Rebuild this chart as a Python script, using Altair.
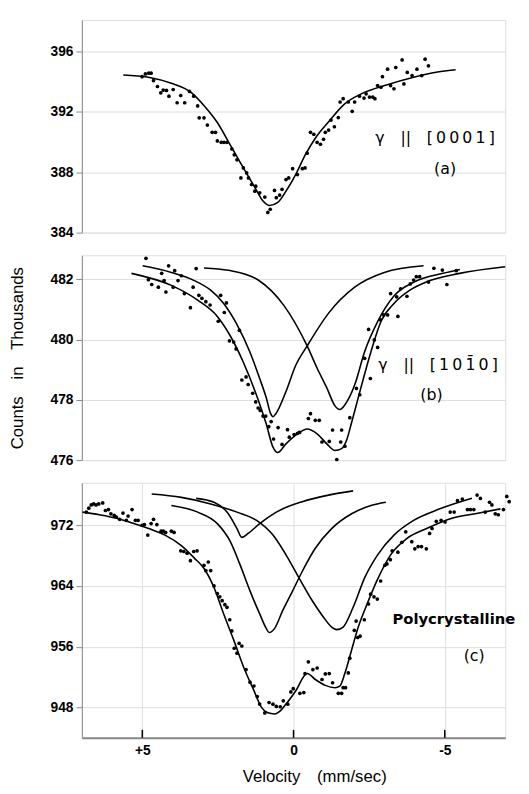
import altair as alt
import pandas as pd

# ---------------- data (velocity mm/s, counts in thousands) -------------
# Panel (a)  gamma || [0001]
A_DOTS = [(5.01, 394.34), (4.90, 394.52), (4.79, 394.57), (4.71, 394.57), (4.63, 394.08), (4.50, 393.69),
          (4.39, 393.27), (4.31, 393.45), (4.20, 393.43), (4.12, 393.05), (3.98, 393.49), (3.85, 392.61),
          (3.73, 393.09), (3.60, 392.61), (3.44, 393.36), (3.30, 393.05), (3.17, 392.40), (3.12, 391.61),
          (2.96, 391.61), (2.85, 391.13), (2.69, 390.65), (2.58, 390.65), (2.52, 390.08), (2.39, 389.99),
          (2.30, 389.99), (2.20, 389.99), (2.04, 389.55), (1.96, 389.16), (1.87, 388.83), (1.74, 387.63),
          (1.66, 388.29), (1.55, 387.96), (1.49, 387.63), (1.39, 387.19), (1.28, 386.75), (1.25, 387.08),
          (1.12, 386.64), (0.95, 386.36), (0.85, 385.34), (0.77, 385.55), (0.63, 386.80), (0.57, 386.32),
          (0.46, 386.49), (0.38, 386.87), (0.25, 387.52), (0.16, 387.63), (0.03, 388.24), (-0.13, 387.85),
          (-0.29, 388.24), (-0.38, 388.29), (-0.45, 389.27), (-0.56, 390.65), (-0.67, 390.52), (-0.78, 389.99),
          (-0.89, 389.86), (-0.99, 390.19), (-1.05, 390.65), (-1.16, 390.80), (-1.24, 391.46), (-1.35, 391.02),
          (-1.48, 391.63), (-1.54, 392.66), (-1.64, 392.88), (-1.81, 392.66), (-1.94, 392.04), (-2.02, 392.66),
          (-2.18, 393.05), (-2.33, 392.92), (-2.40, 393.20), (-2.51, 392.99), (-2.62, 392.99), (-2.69, 392.88),
          (-2.78, 393.75), (-2.89, 393.64), (-2.94, 394.34), (-3.11, 394.84), (-3.21, 393.75), (-3.32, 393.54),
          (-3.38, 394.95), (-3.59, 395.45), (-3.65, 393.86), (-3.76, 394.62), (-3.92, 394.41), (-4.08, 394.84),
          (-4.24, 394.41), (-4.35, 395.50), (-4.46, 395.06)]
A_FIT = [(5.63, 394.45), (4.80, 394.30), (4.04, 393.90), (3.39, 393.30), (2.95, 392.40), (2.52, 391.30),
         (2.09, 389.80), (1.66, 388.30), (1.28, 387.00), (1.01, 386.10), (0.79, 385.80), (0.52, 386.00),
         (0.25, 386.75), (-0.07, 387.85), (-0.40, 389.20), (-0.72, 390.26), (-1.16, 391.35), (-1.70, 392.55),
         (-2.24, 393.20), (-3.10, 393.80), (-3.97, 394.30), (-4.62, 394.60), (-5.36, 394.80)]

# Panel (b)  gamma || [10-10]
B_DOTS = [(4.88, 482.70), (4.80, 481.99), (4.69, 481.83), (4.47, 481.74), (4.36, 482.20), (4.28, 481.96),
          (4.22, 481.58), (4.13, 482.45), (3.98, 481.74), (3.93, 482.29), (3.82, 481.96), (3.71, 482.12),
          (3.61, 481.53), (3.41, 481.06), (3.32, 481.74), (3.22, 482.36), (3.13, 481.47), (3.03, 481.37),
          (2.90, 481.26), (2.76, 481.15), (2.49, 480.61), (2.41, 481.47), (2.29, 480.90), (2.22, 481.22),
          (2.12, 479.96), (1.98, 479.92), (1.90, 479.69), (1.79, 480.31), (1.71, 478.66), (1.57, 478.76),
          (1.50, 478.51), (1.35, 478.22), (1.25, 477.93), (1.17, 477.73), (1.10, 477.65), (1.01, 477.46),
          (0.92, 477.46), (0.82, 477.11), (0.74, 477.28), (0.66, 476.70), (0.51, 477.08), (0.38, 476.52),
          (0.20, 477.01), (0.14, 476.76), (-0.02, 476.85), (-0.13, 476.89), (-0.20, 476.92), (-0.49, 477.38),
          (-0.56, 477.54), (-0.72, 477.32), (-0.85, 477.32), (-0.94, 476.60), (-1.18, 476.62), (-1.29, 477.00),
          (-1.43, 476.02), (-1.56, 476.60), (-1.59, 477.00), (-1.70, 476.46), (-1.86, 477.41), (-2.08, 478.38),
          (-2.19, 478.17), (-2.35, 479.38), (-2.48, 480.34), (-2.54, 478.71), (-2.67, 479.99), (-2.78, 479.74),
          (-2.87, 480.66), (-2.98, 480.82), (-3.11, 480.82), (-3.21, 481.53), (-3.41, 481.42), (-3.45, 480.77),
          (-3.54, 481.69), (-3.75, 481.44), (-3.86, 481.85), (-3.97, 481.98), (-4.06, 482.09), (-4.17, 482.09),
          (-4.46, 481.91), (-4.64, 482.37), (-4.92, 482.31), (-5.07, 481.83), (-5.38, 482.29)]
B_TOTAL = [(5.36, 482.20), (4.04, 481.80), (3.17, 481.31), (2.52, 480.77), (2.09, 480.12), (1.66, 479.25),
           (1.23, 478.17), (0.90, 477.19), (0.68, 476.43), (0.52, 476.25), (0.25, 476.54), (-0.13, 476.87),
           (-0.45, 477.03), (-0.78, 476.87), (-1.10, 476.54), (-1.37, 476.32), (-1.59, 476.38), (-1.75, 476.65),
           (-1.92, 477.25), (-2.12, 478.00), (-2.56, 479.60), (-2.89, 480.60), (-3.32, 481.20), (-3.86, 481.65),
           (-4.40, 481.92), (-5.49, 482.20), (-7.00, 482.42)]
B_LEFT = [(4.99, 482.45), (4.04, 482.23), (3.28, 481.96), (2.74, 481.64), (2.31, 481.20), (1.87, 480.50),
          (1.44, 479.58), (1.12, 478.71), (0.90, 478.06), (0.76, 477.55), (0.68, 477.44), (0.58, 477.55),
          (0.25, 478.28), (-0.07, 479.14), (-0.45, 479.79), (-1.16, 480.88), (-2.02, 481.74), (-3.00, 482.23),
          (-4.30, 482.45)]
B_RIGHT = [(2.96, 482.38), (2.15, 482.30), (1.17, 481.98), (0.31, 481.12), (-0.45, 479.79), (-0.78, 479.05),
           (-1.10, 478.40), (-1.37, 477.80), (-1.53, 477.68), (-1.70, 477.84), (-2.02, 478.49), (-2.35, 479.60),
           (-2.78, 480.60), (-3.32, 481.45), (-4.00, 481.92), (-4.94, 482.20), (-5.50, 482.33)]

# Panel (c)  polycrystalline
C_DOTS = [(6.85, 973.73), (6.77, 974.25), (6.69, 974.68), (6.61, 974.81), (6.53, 974.68), (6.44, 974.81),
          (6.31, 974.94), (6.22, 973.94), (6.12, 974.07), (6.04, 973.51), (5.93, 973.30), (5.86, 973.08),
          (5.75, 972.78), (5.64, 973.60), (5.53, 972.65), (5.47, 973.21), (5.34, 974.07), (5.23, 972.65),
          (5.14, 972.65), (5.01, 972.00), (4.93, 972.09), (4.82, 970.70), (4.71, 972.22), (4.63, 972.78),
          (4.52, 972.09), (4.38, 971.22), (4.31, 971.22), (4.23, 971.05), (4.04, 971.22), (3.95, 971.05),
          (3.73, 968.63), (3.63, 968.54), (3.52, 968.32), (3.41, 967.33), (3.30, 968.54), (3.19, 968.63),
          (2.96, 966.72), (2.90, 966.03), (2.82, 967.16), (2.74, 966.03), (2.63, 964.00), (2.52, 963.01),
          (2.44, 962.57), (2.36, 962.06), (2.27, 961.54), (2.20, 961.19), (2.11, 959.55), (2.04, 958.08),
          (1.96, 955.79), (1.87, 955.14), (1.80, 956.44), (1.71, 956.09), (1.57, 952.98), (1.44, 951.33),
          (1.31, 950.82), (1.20, 949.43), (1.12, 948.44), (0.95, 947.27), (0.81, 948.65), (0.68, 948.43),
          (0.57, 948.13), (0.44, 948.09), (0.34, 948.87), (0.19, 948.43), (0.09, 950.04), (0.01, 950.47),
          (-0.21, 949.86), (-0.34, 949.95), (-0.38, 952.46), (-0.49, 954.01), (-0.64, 952.98), (-0.78, 953.19),
          (-0.94, 951.68), (-1.05, 952.41), (-1.18, 952.46), (-1.29, 951.25), (-1.48, 949.86), (-1.59, 949.86),
          (-1.64, 950.60), (-1.72, 950.60), (-1.81, 952.54), (-1.86, 954.49), (-2.01, 958.16), (-2.07, 959.37),
          (-2.12, 957.21), (-2.20, 957.39), (-2.34, 959.55), (-2.48, 961.62), (-2.55, 962.92), (-2.66, 962.57),
          (-2.77, 962.27), (-2.88, 964.65), (-3.02, 966.72), (-3.09, 966.90), (-3.20, 967.46), (-3.26, 968.63),
          (-3.45, 968.45), (-3.58, 969.75), (-3.71, 971.13), (-3.91, 969.84), (-4.01, 968.89), (-4.12, 969.19),
          (-4.23, 969.19), (-4.39, 968.89), (-4.50, 970.92), (-4.58, 971.57), (-4.72, 972.52), (-4.88, 972.65),
          (-5.01, 972.43), (-5.18, 973.73), (-5.31, 973.73), (-5.42, 975.24), (-5.58, 975.46), (-5.75, 974.07),
          (-5.85, 974.07), (-5.96, 974.07), (-6.07, 975.98), (-6.18, 975.54), (-6.34, 973.73), (-6.48, 975.03),
          (-6.56, 974.68), (-6.67, 973.51), (-6.77, 973.38), (-6.94, 974.07), (-7.05, 975.80), (-7.13, 975.11)]
C_TOTAL = [(6.98, 973.73), (6.42, 973.38), (5.88, 972.95), (5.33, 972.30), (4.79, 971.56), (4.25, 970.70),
           (3.71, 969.31), (3.28, 967.67), (2.96, 966.30), (2.63, 963.80), (2.31, 960.30), (1.98, 956.90),
           (1.66, 953.40), (1.33, 950.40), (1.06, 948.00), (0.85, 947.28), (0.63, 947.14), (0.47, 947.45),
           (0.25, 948.44), (-0.07, 950.17), (-0.45, 952.46), (-0.72, 951.68), (-1.05, 950.90), (-1.37, 950.60),
           (-1.53, 950.81), (-1.70, 952.54), (-1.92, 955.57), (-2.14, 958.59), (-2.45, 961.80), (-2.78, 964.90),
           (-3.21, 968.10), (-3.75, 970.26), (-4.40, 971.56), (-5.27, 972.95), (-6.01, 973.51), (-6.84, 974.16)]
C_LEFT = [(4.04, 974.59), (3.17, 973.73), (2.52, 972.21), (2.09, 969.84), (1.77, 966.81), (1.44, 963.35),
          (1.12, 960.32), (0.90, 958.38), (0.81, 957.86), (0.63, 958.38), (0.36, 960.75), (0.03, 963.35),
          (-0.29, 965.94), (-0.72, 968.97), (-1.26, 971.56), (-1.92, 973.51), (-2.56, 974.59), (-3.05, 975.02)]
C_RIGHT = [(4.69, 976.11), (3.71, 975.67), (2.74, 974.81), (1.87, 973.73), (1.22, 972.64), (0.68, 970.70),
           (0.25, 968.10), (-0.18, 965.07), (-0.62, 962.05), (-0.99, 959.89), (-1.26, 958.59), (-1.43, 958.25),
           (-1.64, 958.59), (-1.97, 961.19), (-2.35, 965.07), (-2.78, 968.10), (-3.32, 970.70), (-3.97, 972.64),
           (-4.84, 974.16), (-5.90, 975.55)]
C_SMALL = [(3.22, 975.54), (2.63, 975.02), (2.20, 973.73), (1.87, 971.56), (1.71, 970.40), (1.50, 970.92),
           (1.12, 972.21), (0.57, 973.73), (-0.29, 975.11), (-1.16, 975.97), (-1.97, 976.53)]

# axis ticks
A_TICKS = [384, 388, 392, 396]
B_TICKS = [476, 478, 480, 482]
C_TICKS = [948, 956, 964, 972]
X_TICKS = [5, 0, -5]

# annotations (text, velocity, counts)
GAP = "\u2002\u2002"
A_NOTES = [("γ" + GAP + "||" + GAP + "[\u20090\u20090\u20090\u20091\u2009]", -4.68, 390.26),
           ("(a)", -5.01, 388.22)]
B_NOTES = [("γ" + GAP + "||" + GAP + "[\u20091\u20090\u20091\u0304\u20090\u2009]", -4.78, 479.16),
           ("(b)", -4.56, 478.15)]
C_NOTES = [("(c)", -5.97, 954.7)]
C_BOLD_NOTES = [("Polycrystalline", -5.3, 959.67)]
Y_TITLE = "Counts" + GAP + "in" + GAP + "Thousands"
X_TITLE = "Velocity" + GAP + "(mm/sec)"

# ---------------- chart -----------------
FONT = "DejaVu Sans"
W = 430
H_A, H_B, H_C = 216, 208, 259
XSCALE = alt.Scale(domain=[-7, 7], reverse=True, nice=False)


def x_enc(show):
    if show:
        return alt.X("v:Q", scale=XSCALE,
                     axis=alt.Axis(values=X_TICKS, ticks=False, tickSize=0, labelPadding=6,
                                   labelExpr="datum.value > 0 ? '+' + datum.value : '' + datum.value",
                                   labelFontSize=14, labelFontWeight="bold", domainWidth=2,
                                   title=X_TITLE, titlePadding=11, titleX=236,
                                   titleFontSize=17, titleFontWeight="normal"))
    return alt.X("v:Q", scale=XSCALE, axis=None)


def y_enc(dom, ticks, title):
    if title:
        ax = alt.Axis(values=ticks, tickSize=6, labelPadding=3, labelFontSize=14, labelFontWeight="bold",
                      title=title, titlePadding=24, titleFontSize=17, titleFontWeight="normal")
    else:
        ax = alt.Axis(values=ticks, tickSize=6, labelPadding=3, labelFontSize=14, labelFontWeight="bold",
                      title=None)
    return alt.Y("c:Q", scale=alt.Scale(domain=dom, nice=False, zero=False), axis=ax)


def panel(dots, curves, dom, ticks, h, notes, bold_notes=None, title=None, show_x=False):
    x = x_enc(show_x)
    y = y_enc(dom, ticks, title)
    cdf = pd.concat([pd.DataFrame(rows, columns=["v", "c"]).assign(curve=name) for name, rows in curves.items()])
    layers = [
        alt.Chart(cdf).mark_line(color="black", strokeWidth=1.6, interpolate="monotone")
        .encode(x=x, y=y, detail="curve:N"),
        alt.Chart(pd.DataFrame(dots, columns=["v", "c"])).mark_circle(color="black", size=14, opacity=1)
        .encode(x=x, y=y),
        alt.Chart(pd.DataFrame(notes, columns=["t", "v", "c"]))
        .mark_text(font=FONT, fontSize=16, color="black", align="center", baseline="middle")
        .encode(x=x, y=y, text="t:N"),
    ]
    if bold_notes:
        layers.append(alt.Chart(pd.DataFrame(bold_notes, columns=["t", "v", "c"]))
                      .mark_text(font=FONT, fontSize=15, fontWeight="bold", color="black",
                                 align="center", baseline="middle")
                      .encode(x=x, y=y, text="t:N"))
    if show_x:
        layers.append(alt.Chart(pd.DataFrame({"v": X_TICKS})).mark_rule(color="black", strokeWidth=1.6)
                      .encode(x=x, y=alt.value(h - 8), y2=alt.value(h)))
    return alt.layer(*layers).properties(width=W, height=h)


pa = panel(A_DOTS, {"fit": A_FIT}, [384, 398.1], A_TICKS, H_A, A_NOTES)
pb = panel(B_DOTS, {"total": B_TOTAL, "left": B_LEFT, "right": B_RIGHT}, [476, 482.8], B_TICKS, H_B,
           B_NOTES, title=Y_TITLE)
pc = panel(C_DOTS, {"total": C_TOTAL, "left": C_LEFT, "right": C_RIGHT, "small": C_SMALL},
           [944, 977.6], C_TICKS, H_C, C_NOTES, bold_notes=C_BOLD_NOTES, show_x=True)

chart = (
    alt.vconcat(pa, pb, pc, spacing=23, bounds="flush")
    .properties(padding={"left": 0, "top": 5, "right": 5, "bottom": 5})
    .configure_view(stroke=None)
    .configure_axis(domainColor="black", domainWidth=1.6, tickColor="black", tickWidth=1.6,
                    labelColor="black", titleColor="black", grid=False, labelFont=FONT, titleFont=FONT)
    .configure(background="white")
)

chart.save("out.html", embed_options={"renderer": "svg", "actions": False})
